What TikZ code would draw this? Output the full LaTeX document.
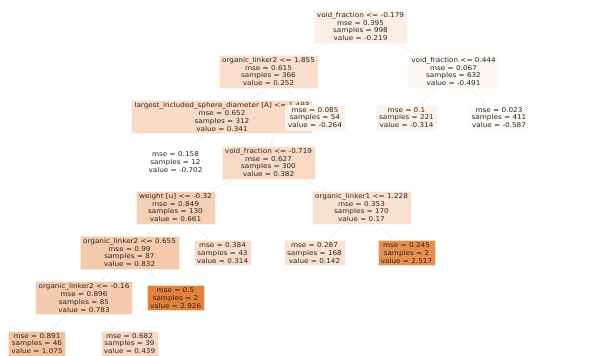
\documentclass[tikz,border=0pt]{standalone}
\usepackage{fontspec}
\newfontfamily\treefont[FakeStretch=1.1]{DejaVu Sans}
\usetikzlibrary{arrows.meta}
\definecolor{c0}{RGB}{252,238,229}
\definecolor{c1}{RGB}{248,222,203}
\definecolor{c2}{RGB}{253,248,244}
\definecolor{c3}{RGB}{248,219,198}
\definecolor{c4}{RGB}{252,240,231}
\definecolor{c5}{RGB}{252,242,234}
\definecolor{c6}{RGB}{254,251,249}
\definecolor{c7}{RGB}{255,255,255}
\definecolor{c8}{RGB}{247,217,196}
\definecolor{c9}{RGB}{245,208,181}
\definecolor{c10}{RGB}{249,225,207}
\definecolor{c11}{RGB}{244,202,171}
\definecolor{c12}{RGB}{248,220,200}
\definecolor{c13}{RGB}{249,226,209}
\definecolor{c14}{RGB}{232,143,79}
\definecolor{c15}{RGB}{244,203,174}
\definecolor{c16}{RGB}{229,129,57}
\definecolor{c17}{RGB}{242,193,158}
\definecolor{c18}{RGB}{247,215,193}
\definecolor{edgecol}{RGB}{238,238,238}
\tikzset{
  treebox/.style={fill=#1, draw=white!70!#1, line width=0.6pt, inner xsep=3pt, inner ysep=2.4pt, align=center,
    font=\treefont\fontsize{6.6}{7.7}\selectfont, text=black!85},
  treeedge/.style={draw=edgecol, line width=0.6pt, -{Stealth[length=3pt,width=2.5pt]}, shorten >=1pt}
}
\begin{document}
\begin{tikzpicture}[x=1pt,y=-1pt]
\fill[white] (0,0) rectangle (606,356);
\clip (0,0) rectangle (606,356);
\useasboundingbox (0,0) rectangle (606,356);
\node[treebox=c0] (r) at (360.5,26.5) {void\_fraction <= -0.179\\mse = 0.395\\samples = 998\\value = -0.219};
\node[treebox=c1] (n1) at (268.5,71.5) {organic\_linker2 <= 1.855\\mse = 0.615\\samples = 366\\value = 0.252};
\node[treebox=c2] (n2) at (453.5,71.5) {void\_fraction <= 0.444\\mse = 0.067\\samples = 632\\value = -0.491};
\node[treebox=c3] (n3) at (222,117) {largest\_included\_sphere\_diameter [A] <= 1.493\\mse = 0.652\\samples = 312\\value = 0.341};
\node[treebox=c4] (n4) at (315,117.5) {mse = 0.085\\samples = 54\\value = -0.264};
\node[treebox=c5] (n5) at (406.5,117.5) {mse = 0.1\\samples = 221\\value = -0.314};
\node[treebox=c6] (n6) at (499,117.5) {mse = 0.023\\samples = 411\\value = -0.587};
\node[treebox=c7] (n7) at (175.5,162) {mse = 0.158\\samples = 12\\value = -0.702};
\node[treebox=c8] (n8) at (268.5,162.5) {void\_fraction <= -0.719\\mse = 0.627\\samples = 300\\value = 0.382};
\node[treebox=c9] (n9) at (175.5,207.5) {weight [u] <= -0.32\\mse = 0.849\\samples = 130\\value = 0.661};
\node[treebox=c10] (n10) at (361.5,207.5) {organic\_linker1 <= 1.228\\mse = 0.353\\samples = 170\\value = 0.17};
\node[treebox=c11] (n11) at (129.5,252.5) {organic\_linker2 <= 0.655\\mse = 0.99\\samples = 87\\value = 0.832};
\node[treebox=c12] (n12) at (222.5,253) {mse = 0.384\\samples = 43\\value = 0.314};
\node[treebox=c13] (n13) at (314.5,253) {mse = 0.287\\samples = 168\\value = 0.142};
\node[treebox=c14] (n14) at (406.5,253) {mse = 0.245\\samples = 2\\value = 2.517};
\node[treebox=c15] (n15) at (84,298) {organic\_linker2 <= -0.16\\mse = 0.896\\samples = 85\\value = 0.783};
\node[treebox=c16] (n16) at (175.5,298) {mse = 0.5\\samples = 2\\value = 2.926};
\node[treebox=c17] (n17) at (37,343.5) {mse = 0.891\\samples = 46\\value = 1.075};
\node[treebox=c18] (n18) at (129.5,343.5) {mse = 0.682\\samples = 39\\value = 0.439};
\begin{scope}[on background layer/.try]
\end{scope}
\draw[treeedge] (r) -- (n1);
\draw[treeedge] (r) -- (n2);
\draw[treeedge] (n2) -- (n5);
\draw[treeedge] (n2) -- (n6);
\draw[treeedge] (n1.south) -- (n3);
\draw[treeedge] (n3) -- (n7);
\draw[treeedge] (n3.south east) ++(-40,0) -- (n8);
\draw[treeedge] (n8) -- (n9);
\draw[treeedge] (n8) -- (n10);
\draw[treeedge] (n9) -- (n11);
\draw[treeedge] (n9) -- (n12);
\draw[treeedge] (n10) -- (n13);
\draw[treeedge] (n10) -- (n14);
\draw[treeedge] (n11) -- (n15);
\draw[treeedge] (n11) -- (n16);
\draw[treeedge] (n15) -- (n17);
\draw[treeedge] (n15) -- (n18);
\node[treebox=c4] (n4b) at (n4) {mse = 0.085\\samples = 54\\value = -0.264};
\draw[treeedge] (n1) -- (n4b);
\end{tikzpicture}
\end{document}
